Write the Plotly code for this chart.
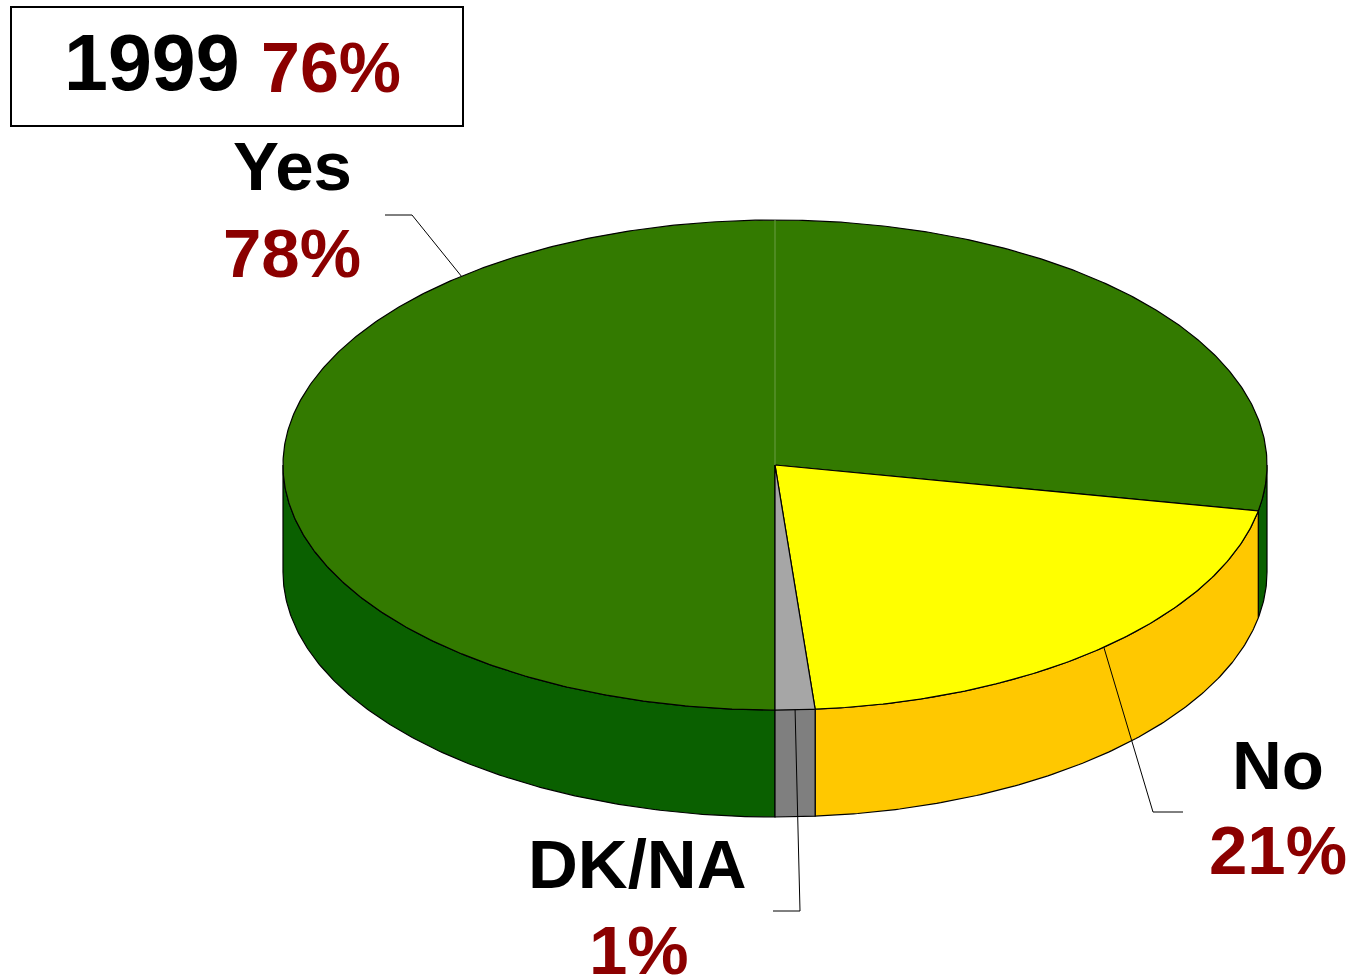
import math
import plotly.graph_objects as go

# Data
categories = ["Yes", "No", "DK/NA"]
values = [78.0, 20.7, 1.3]
value_labels = ["78%", "21%", "1%"]
title_year = "1999"
title_value = "76%"

# Colours
TOP = ["#337a00", "#ffff00", "#a6a6a6"]
WALL = ["#0a6000", "#ffc800", "#7f7f7f"]
RED = "#8b0000"
FONT = "Liberation Sans"

# Pie geometry (pixels)
W, H = 1351, 976
CX, CY, RX, RY, DEPTH = 775.0, 465.0, 492.0, 245.0, 107.0
START = 180.0


def pt(a, dy=0.0):
    r = math.radians(a)
    return CX + RX * math.sin(r), CY - RY * math.cos(r) + dy


def arc(a0, a1, dy=0.0):
    n = max(2, int(abs(a1 - a0) * 2))
    return [pt(a0 + (a1 - a0) * i / n, dy) for i in range(n + 1)]


spans = []
a = START
for v in values:
    b = a + v * 3.6
    spans.append((a, b))
    a = b

fig = go.Figure()


def poly(points, fill):
    fig.add_trace(go.Scatter(
        x=[p[0] for p in points], y=[p[1] for p in points],
        mode="lines", fill="toself", fillcolor=fill,
        line=dict(color="#000000", width=1.2), hoverinfo="skip", showlegend=False))


def line(points, color="#000000", width=1.0):
    fig.add_trace(go.Scatter(
        x=[p[0] for p in points], y=[p[1] for p in points],
        mode="lines", line=dict(color=color, width=width),
        hoverinfo="skip", showlegend=False))


# Walls: only the front half of the rim (90..270 degrees) is visible
for (a0, a1), col in zip(spans, WALL):
    for shift in (0, 360, -360):
        lo, hi = max(a0 + shift, 90), min(a1 + shift, 270)
        if hi > lo:
            top = arc(lo, hi)
            poly(top + arc(hi, lo, DEPTH) + [top[0]], col)

# Top faces
for (a0, a1), col in zip(spans, TOP):
    poly([(CX, CY)] + arc(a0, a1) + [(CX, CY)], col)

# Light seam on the top face
line([(CX, CY), pt(0)], "#6a9c45", 1)

# Leader lines start at the mid-angle of each slice
elbows = [
    [(412, 215), (385, 215)],
    [(1153, 812), (1183, 812)],
    [(800, 911), (773, 911)],
]
for (a0, a1), e in zip(spans, elbows):
    line([pt((a0 + a1) / 2)] + e, "#000000", 1)

# Text
label_pos = [(292, 166, 292, 253), (1278, 765, 1278, 850), (637, 864, 639, 950)]
ann = []


def text(x, y, s, size, color):
    ann.append(dict(x=x, y=y, xref="x", yref="y", text=f"<b>{s}</b>", showarrow=False,
                    xanchor="center", yanchor="middle",
                    font=dict(family=FONT, size=size, color=color)))


for c, vl, (x1, y1, x2, y2) in zip(categories, value_labels, label_pos):
    text(x1, y1, c, 69, "#000000")
    text(x2, y2, vl, 69, RED)
text(152, 62, title_year, 79, "#000000")
text(331, 68, title_value, 70, RED)

fig.update_layout(
    width=W, height=H, margin=dict(l=0, r=0, t=0, b=0),
    paper_bgcolor="#ffffff", plot_bgcolor="#ffffff", showlegend=False,
    xaxis=dict(range=[0, W], visible=False, fixedrange=True),
    yaxis=dict(range=[H, 0], visible=False, fixedrange=True),
    annotations=ann,
    shapes=[dict(type="rect", xref="x", yref="y", x0=11, y0=7, x1=463, y1=126,
                 line=dict(color="#000000", width=2), fillcolor="#ffffff", layer="below")],
)
fig.write_html("out.html", config={"displayModeBar": False},
               post_script="document.body.style.margin='0';document.documentElement.style.overflow='hidden';")
